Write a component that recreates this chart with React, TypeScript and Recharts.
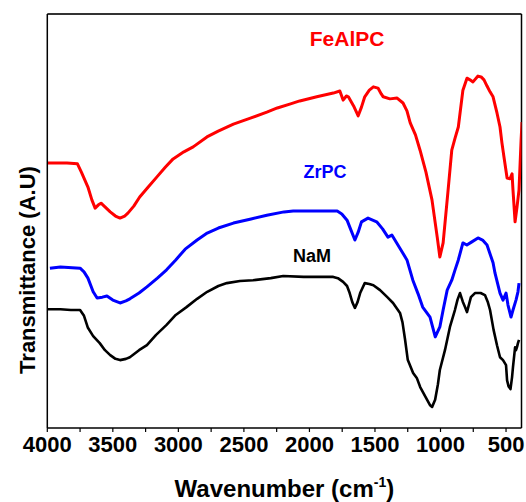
import React from 'react';
import {
   LineChart,
   Line,
   XAxis,
   YAxis,
   ReferenceLine,
   ReferenceDot,
} from 'recharts';

// wavenumber (cm-1) and transmittance (arbitrary units)
const FEALPC_WN = [
   4000, 3850, 3770, 3740, 3690, 3660, 3635, 3610, 3590, 3560, 3520, 3480, 3445, 3410, 3385, 3340,
   3295, 3230, 3165, 3100, 3040, 2958, 2887, 2782, 2696, 2580, 2445, 2325, 2245, 2144, 2074, 1944,
   1818, 1768, 1743, 1718, 1703, 1663, 1628, 1603, 1578, 1543, 1512, 1477, 1452, 1437, 1386, 1331,
   1286, 1256, 1231, 1191, 1156, 1111, 1065, 1025, 1005, 980, 944, 914, 889, 864, 829, 798, 775,
   752, 714, 690, 668, 645, 622, 599, 569, 546, 531, 516, 492, 470, 454, 447, 431, 416, 401, 385,
   378,
];
const FEALPC_T = [
   64.0, 64.0, 63.8, 61.8, 58.2, 55.1, 53.1, 53.9, 54.3, 53.4, 52.2, 51.2, 50.7, 51.2, 51.9, 53.6,
   55.8, 58.2, 60.6, 63.0, 65.0, 66.7, 67.9, 70.3, 71.7, 73.4, 74.9, 76.3, 77.3, 78.3, 79.0, 80.0,
   80.9, 81.4, 79.2, 80.2, 80.0, 77.8, 75.4, 77.5, 80.0, 81.6, 82.4, 82.1, 80.7, 80.0, 79.5, 79.7,
   78.5, 76.6, 73.7, 70.8, 67.1, 61.8, 55.1, 46.1, 41.3, 44.7, 56.8, 67.1, 70.0, 72.7, 81.6, 84.5, 84.1,
   83.6, 85.0, 84.8, 84.1, 82.6, 81.2, 80.0, 76.1, 72.7, 68.8, 65.5, 60.4, 60.2, 61.4, 57.5, 49.8, 53.4, 57.5, 69.6,
   73.9,
];

const ZRPC_WN = [
   3980, 3900, 3750, 3720, 3690, 3650, 3620, 3580, 3545, 3500, 3445, 3400, 3370, 3300, 3240, 3160,
   3090, 3020, 2948, 2857, 2780, 2695, 2580, 2445, 2325, 2194, 2124, 1944, 1788, 1753, 1713, 1683,
   1653, 1628, 1603, 1553, 1487, 1442, 1401, 1371, 1311, 1256, 1211, 1171, 1136, 1080, 1040, 1005,
   980, 949, 914, 889, 864, 829, 799, 764, 714, 679, 645, 599, 584, 546, 523, 500, 485, 462, 447,
   424, 409, 401,
];
const ZRPC_T = [
   38.6, 38.9, 38.6, 37.7, 36.2, 32.9, 31.4, 31.6, 31.9, 30.9, 30.2, 30.7, 31.2, 32.6, 34.1, 36.2,
   38.2, 40.6, 43.2, 45.4, 47.1, 48.3, 49.5, 50.5, 51.4, 52.2, 52.4, 52.4, 52.4, 51.7, 50.2, 47.8,
   45.4, 47.3, 49.8, 50.7, 49.8, 48.1, 46.1, 46.6, 43.5, 40.6, 35.7, 32.4, 29.2, 26.8, 22.0, 24.4,
   28.5, 33.3, 35.7, 38.2, 40.6, 44.7, 44.2, 44.9, 45.9, 45.4, 44.2, 39.9, 37.4, 32.6, 30.9, 32.6, 29.7, 26.8, 28.5,
   30.9, 32.9, 35.0,
];

const NAM_WN = [
   4000, 3900, 3820, 3750, 3720, 3690, 3650, 3600, 3560, 3520, 3480, 3445, 3400, 3370, 3300, 3240,
   3170, 3090, 3020, 2938, 2857, 2780, 2695, 2630, 2530, 2430, 2295, 2200, 2044, 1919, 1818, 1783,
   1743, 1713, 1693, 1673, 1653, 1633, 1613, 1578, 1543, 1512, 1461, 1406, 1362, 1309, 1290, 1271,
   1250, 1209, 1181, 1155, 1102, 1080, 1064, 1041, 1020, 1005, 966, 928, 890, 870, 851, 830, 813,
   798, 768, 737, 694, 661, 640, 622, 595, 569, 546, 523, 500, 492, 480, 466, 454, 447, 431, 424,
   416, 409, 401,
];
const NAM_T = [
   28.7, 28.7, 28.5, 28.5, 27.1, 24.2, 22.2, 20.5, 18.8, 17.6, 16.7, 16.4, 16.7, 17.1, 18.8, 20.0,
   22.5, 24.9, 27.3, 29.2, 31.2, 32.9, 34.3, 35.0, 35.5, 35.7, 36.2, 36.7, 36.5, 36.5, 36.5, 36.2,
   35.3, 34.3, 32.6, 30.4, 29.0, 30.4, 32.6, 35.0, 34.8, 34.5, 33.3, 31.6, 30.2, 27.8, 25.5, 21.5,
   16.5, 13.3, 12.1, 9.9, 6.8, 5.5, 5.1, 6.8, 10.5, 14.0, 18.8, 24.4, 28.5, 31.0, 32.6, 30.5, 29.2,
   28.0, 31.6, 32.6, 32.6, 32.1, 30.5, 28.5, 23.7, 20.0, 17.1, 16.4, 15.2, 11.5, 10.0, 9.4, 12.3, 14.7, 19.5, 18.8,
   19.6, 20.5, 21.3,
];

const X_TICKS = [4000, 3750, 3500, 3250, 3000, 2750, 2500, 2250, 2000, 1750, 1500, 1250, 1000, 750, 500];
const X_MIN = 382;
const X_MAX = 4000;

const TAG_NAMES = ['FeAlPC', 'ZrPC', 'NaM'];
const TAG_WN = [1713, 1881, 1980];
const TAG_T = [92.3, 60.4, 40.1];
const TAG_SIZES = [21, 18, 18];
const COLORS = ['#ff0000', '#0000ff', '#000000'];

const zip = (wn: number[], t: number[]) => wn.map((w, i) => ({ wn: w, t: t[i] }));

const series = [
   { name: 'FeAlPC', data: zip(FEALPC_WN, FEALPC_T), width: 3 },
   { name: 'ZrPC', data: zip(ZRPC_WN, ZRPC_T), width: 3 },
   { name: 'NaM', data: zip(NAM_WN, NAM_T), width: 2.6 },
];

const FONT = 'Arial, "Liberation Sans", sans-serif';

const WnTick = ({ x, y, payload }: any) => {
   if (payload.value % 500 !== 0) return null;
   return (
      <text x={x} y={y} dy={18} textAnchor="middle" fontFamily={FONT} fontWeight="bold" fontSize={22} fill="#000">
         {payload.value}
      </text>
   );
};

const XTitle = ({ viewBox }: any) => (
   <text
      x={viewBox.x + viewBox.width / 2}
      y={viewBox.y + 69}
      textAnchor="middle"
      fontFamily={FONT}
      fontWeight="bold"
      fontSize={24}
      fill="#000"
   >
      Wavenumber (cm
      <tspan fontSize={14} dy={-10}>-1</tspan>
      <tspan dy={10}>)</tspan>
   </text>
);

// the axis title sits below the middle of the frame in the original
const YTitle = ({ viewBox }: any) => {
   const cx = viewBox.x + 35;
   const cy = viewBox.y + 256;
   return (
      <text
         x={cx}
         y={cy}
         transform={`rotate(-90, ${cx}, ${cy})`}
         textAnchor="middle"
         fontFamily={FONT}
         fontWeight="bold"
         fontSize={22}
         fill="#000"
      >
         Transmittance (A.U)
      </text>
   );
};

const Tag = ({ viewBox, text, color, size }: any) => (
   <text x={viewBox.x} y={viewBox.y} textAnchor="middle" fontFamily={FONT} fontWeight="bold" fontSize={size} fill={color}>
      {text}
   </text>
);

const App = () => {
   return (
      <div style={{ position: 'absolute', left: 0, top: 0, background: '#fff' }}>
         <LineChart width={526} height={502} margin={{ top: 14, right: 4.5, left: 0, bottom: 0 }}>
            <XAxis
               type="number"
               dataKey="wn"
               domain={[X_MIN, X_MAX]}
               allowDataOverflow
               reversed
               ticks={X_TICKS}
               interval={0}
               tick={<WnTick />}
               tickSize={4}
               tickMargin={2}
               height={74}
               axisLine={{ stroke: '#000', strokeWidth: 1.5 }}
               tickLine={{ stroke: '#000', strokeWidth: 1.2 }}
               label={<XTitle />}
            />
            <YAxis
               type="number"
               domain={[0, 100]}
               allowDataOverflow
               tick={false}
               tickLine={false}
               width={47.3}
               axisLine={{ stroke: '#000', strokeWidth: 1.5 }}
               label={<YTitle />}
            />
            <ReferenceLine y={100} stroke="#333" strokeWidth={1.8} />
            <ReferenceLine x={X_MIN} stroke="#000" strokeWidth={1.5} />
            {series.map((s, i) => (
               <Line
                  key={s.name}
                  data={s.data}
                  dataKey="t"
                  name={s.name}
                  type="linear"
                  stroke={COLORS[i]}
                  strokeWidth={s.width}
                  strokeLinejoin="round"
                  dot={false}
                  activeDot={false}
                  isAnimationActive={false}
               />
            ))}
            {TAG_NAMES.map((n, i) => (
               <ReferenceDot
                  key={n}
                  x={TAG_WN[i]}
                  y={TAG_T[i]}
                  r={0}
                  fill="none"
                  stroke="none"
                  label={<Tag text={n} color={COLORS[i]} size={TAG_SIZES[i]} />}
               />
            ))}
         </LineChart>
      </div>
   );
};

export default App;
